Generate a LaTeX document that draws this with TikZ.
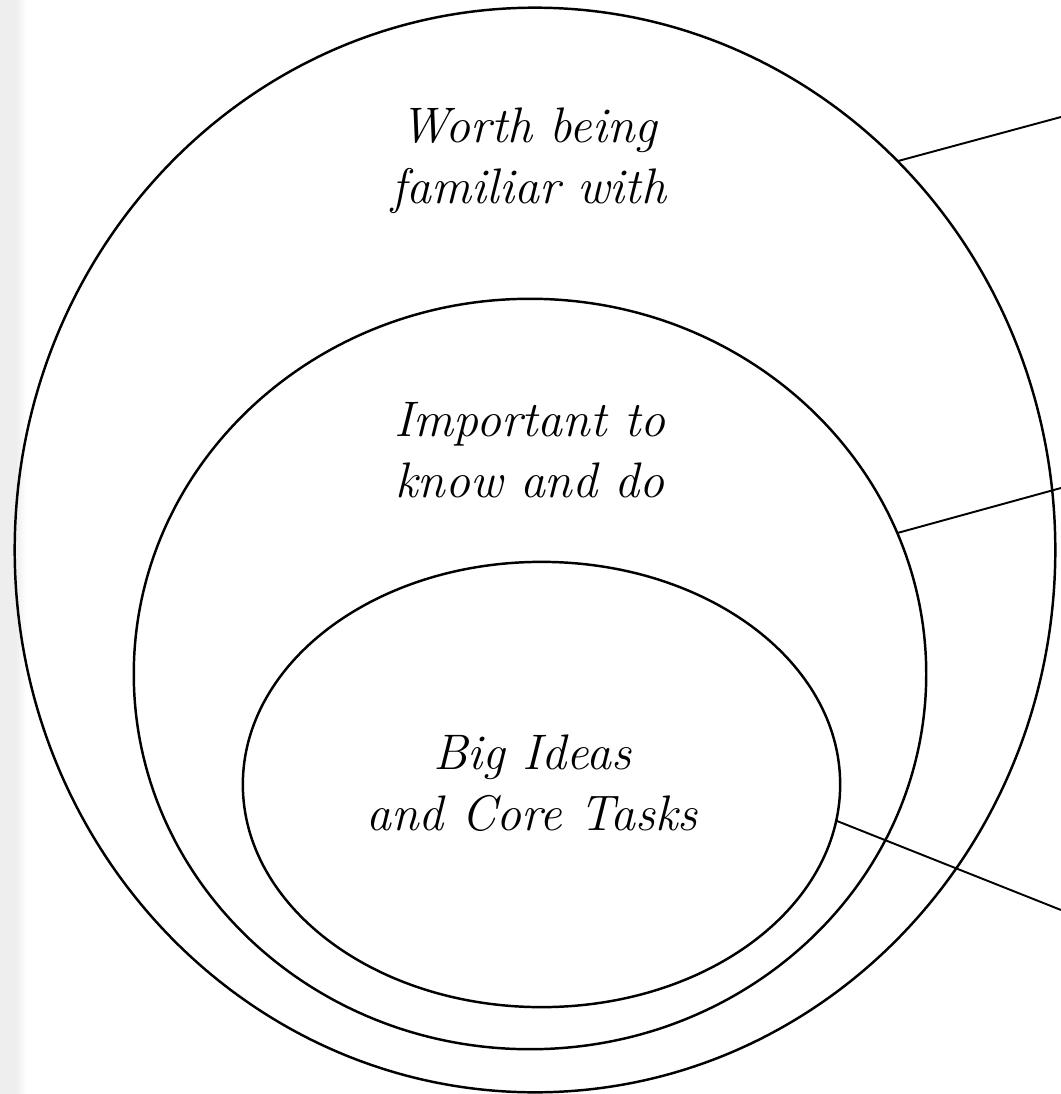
\documentclass[tikz,border=0pt]{standalone}
\usepackage{tikz}
\usetikzlibrary{shapes.geometric}
\usetikzlibrary{positioning}
\tikzset{ring/.style = {draw, ellipse, line width=0.7pt, inner sep=0pt, outer sep=0pt}}
\tikzset{lbl/.style = {align=center, inner sep=0pt,
                       font=\fontsize{14.2}{17.2}\selectfont\itshape}}
\tikzset{lead/.style = {line width=0.55pt}}

\begin{document}
\begin{tikzpicture}[x=0.01cm, y=-0.01cm]
	\useasboundingbox (0,0) rectangle (1061,1094);
	\fill [gray!13] (0,0) rectangle (16,1094);
	\shade [left color=gray!13, right color=white] (16,0) rectangle (26,1094);
	\node [ring, minimum width=10.4cm, minimum height=10.84cm] (worth) at (535,550) {};
	\node [ring, minimum width=7.92cm, minimum height=7.5cm] (important) at (530,674) {};
	\node [ring, minimum width=5.97cm, minimum height=4.45cm] (core) at (541.5,784.5) {};
	\node [lbl] (worthtxt) at (529,161) {Worth being\\familiar with};
	\node [lbl] (importanttxt) at (530,450) {Important to\\know and do};
	\node [lbl] (coretxt) at (532,783) {Big Ideas\\and Core Tasks};
	\coordinate (e1) at (1061,117);
	\coordinate (e2) at (1061,488);
	\coordinate (e3) at (1061,910);
	\draw [lead] (worth.47.8) -- (e1);
	\draw [lead] (important.21.7) -- (e2);
	\draw [lead] (core.-7.3) -- (e3);
\end{tikzpicture}
\end{document}
